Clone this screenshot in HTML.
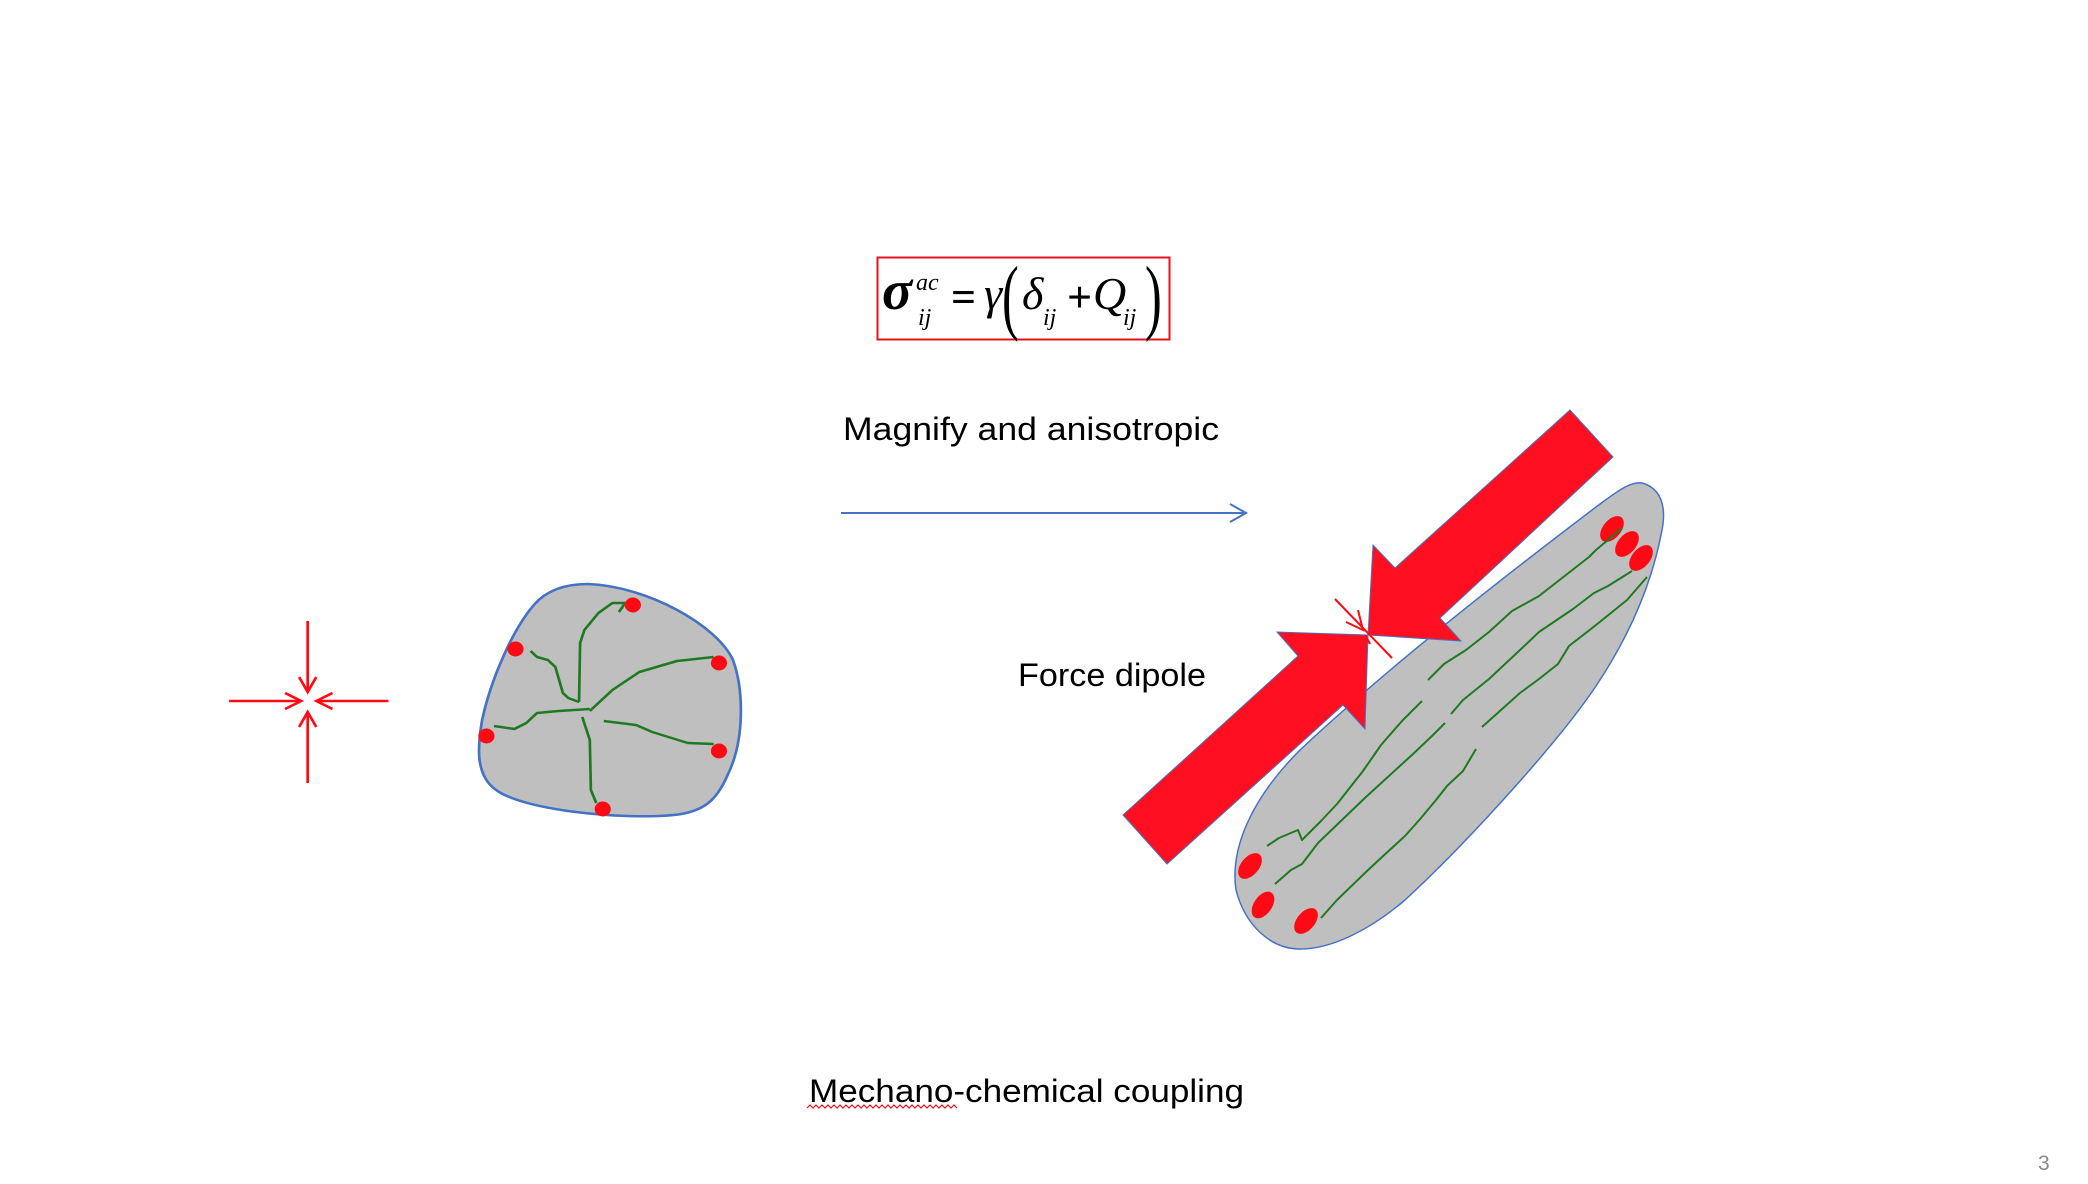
<!DOCTYPE html>
<html><head><meta charset="utf-8"><style>
html,body{margin:0;padding:0;background:#fff;}
svg{display:block;}
</style></head><body>
<svg width="2088" height="1184" viewBox="0 0 2088 1184" xmlns="http://www.w3.org/2000/svg">
<!-- equation -->
<rect x="877.5" y="257.5" width="292" height="82" fill="none" stroke="#e8121f" stroke-width="2"/>
<g font-family="'Liberation Serif',serif" font-style="italic" fill="#000">
<text x="882" y="309" font-size="56" font-weight="bold">σ</text>
<text x="916" y="290" font-size="24">ac</text>
<text x="918" y="325" font-size="24">ij</text>
<text x="951" y="312" font-size="44" font-style="normal" font-weight="bold">=</text>
<text x="984" y="309" font-size="46">γ</text>
<text x="1002" y="324" font-size="84" font-style="normal" transform="translate(1002 0) scale(0.6 1) translate(-1002 0)">(</text>
<text x="1022" y="309" font-size="46">δ</text>
<text x="1043" y="325" font-size="24">ij</text>
<text x="1067" y="312" font-size="44" font-style="normal" font-weight="bold">+</text>
<text x="1093" y="309" font-size="46">Q</text>
<text x="1123" y="325" font-size="24">ij</text>
<text x="1145" y="324" font-size="84" font-style="normal" transform="translate(1145 0) scale(0.6 1) translate(-1145 0)">)</text>
</g>
<g font-family="'Liberation Sans',sans-serif" fill="#000" font-size="32">
<text x="843" y="440" textLength="376" lengthAdjust="spacingAndGlyphs">Magnify and anisotropic</text>
<text x="1018" y="686" textLength="188" lengthAdjust="spacingAndGlyphs">Force dipole</text>
<text x="809" y="1102" textLength="435" lengthAdjust="spacingAndGlyphs">Mechano-chemical coupling</text>
</g>
<text x="2038" y="1170" font-family="'Liberation Sans',sans-serif" font-size="21" fill="#8a8a8a">3</text>
<path d="M807,1108 l3,-3 l3,3 l3,-3 l3,3 l3,-3 l3,3 l3,-3 l3,3 l3,-3 l3,3 l3,-3 l3,3 l3,-3 l3,3 l3,-3 l3,3 l3,-3 l3,3 l3,-3 l3,3 l3,-3 l3,3 l3,-3 l3,3 l3,-3 l3,3 l3,-3 l3,3 l3,-3 l3,3 l3,-3 l3,3 l3,-3 l3,3 l3,-3 l3,3 l3,-3 l3,3 l3,-3 l3,3 l3,-3 l3,3 l3,-3 l3,3 l3,-3 l3,3 l3,-3 l3,3 l3,-3 l3,3" fill="none" stroke="#e8121f" stroke-width="1.2"/>
<!-- blue arrow -->
<g stroke="#4472c4" stroke-width="2" fill="none">
<line x1="841" y1="513" x2="1245" y2="513"/>
<polyline points="1230,504 1246,513 1230,522"/>
</g>
<g transform="translate(200 0) scale(1.0768 1) translate(-200 0)">
<!-- cross -->
<g stroke="#ff0a14" stroke-width="2.5" fill="none">
<line x1="300" y1="621" x2="300" y2="692"/>
<polyline points="292,677 300,692 308,677"/>
<line x1="300" y1="712" x2="300" y2="783"/>
<polyline points="292,727 300,712 308,727"/>
<line x1="227" y1="701" x2="294" y2="701"/>
<polyline points="279,693 294,701 279,709"/>
<line x1="308" y1="701" x2="375" y2="701"/>
<polyline points="323,693 308,701 323,709"/>
</g>
<!-- left cell -->
<path d="M560,584 C615,586 680,625 695,660 C705,690 706,740 690,775 C680,800 668,812 640,815 C590,820 500,810 475,790 C455,775 458,745 462,720 C470,680 490,630 510,605 C522,590 540,584 560,584 Z" fill="#bfbfbf" stroke="#4472c4" stroke-width="2.5"/>
<g stroke="#1f7a1f" stroke-width="2.5" fill="none" stroke-linejoin="round">
<polyline points="589,612 595,603 583,603 570,613 557,630 553,643 552,702"/>
<polyline points="507,651 513,657 523,660 530,667 537,693 542,698 552,702"/>
<polyline points="473,726 492,729 503,723 513,713 533,711 562,709"/>
<polyline points="562,711 583,690 608,672 643,661 677,657"/>
<polyline points="555,717 562,740 563,790 568,803"/>
<polyline points="575,721 605,725 620,732 653,743 677,744"/>
</g>
<g fill="#ff0a14">
<circle cx="602" cy="605" r="7.5"/><circle cx="493" cy="649" r="7.5"/><circle cx="682" cy="663" r="7.5"/>
<circle cx="466" cy="736" r="7.5"/><circle cx="682" cy="751" r="7.5"/><circle cx="574" cy="809" r="7.5"/>
</g>
</g>
<!-- right cell -->
<path d="M1642,483 C1660,488 1668,505 1661,535 C1655,565 1640,620 1596,686 C1560,740 1470,840 1405,900 C1370,930 1330,950 1298,949 C1270,948 1245,925 1236,890 C1230,850 1250,800 1300,750 C1380,675 1480,595 1596,507 C1615,493 1630,481 1642,483 Z" fill="#bfbfbf" stroke="#4472c4" stroke-width="1.5"/>
<g fill="#ff0a14">
<ellipse cx="1612" cy="529" rx="15" ry="9" transform="rotate(-50 1612 529)"/>
<ellipse cx="1627" cy="544" rx="15" ry="9" transform="rotate(-50 1627 544)"/>
<ellipse cx="1641" cy="558" rx="15" ry="9" transform="rotate(-50 1641 558)"/>
<ellipse cx="1250" cy="866" rx="15" ry="9" transform="rotate(-50 1250 866)"/>
<ellipse cx="1263" cy="905" rx="15" ry="9" transform="rotate(-55 1263 905)"/>
<ellipse cx="1306" cy="921" rx="15" ry="9" transform="rotate(-50 1306 921)"/>
</g>
<g stroke="#1f7a1f" stroke-width="2" fill="none" stroke-linejoin="round">
<polyline points="1622,528 1596,550 1589,557 1539,596 1512,611 1489,632 1466,650 1444,664 1428,680"/>
<polyline points="1422,701 1402,721 1381,745 1363,771 1337,804 1321,821 1302,840 1298,830 1279,838 1267,846"/>
<polyline points="1632,571 1608,586 1594,593 1573,609 1539,632 1520,650 1489,679 1463,700 1451,714"/>
<polyline points="1445,723 1432,736 1413,754 1390,775 1367,796 1344,818 1318,843 1302,864 1291,870 1275,884"/>
<polyline points="1647,577 1627,600 1596,625 1569,646 1558,664 1539,679 1520,693 1482,727"/>
<polyline points="1476,749 1463,771 1447,786 1436,800 1421,818 1405,836 1382,857 1367,871 1337,900 1321,918"/>
</g>
<!-- big arrows -->
<polygon points="1570,410 1613,457 1440,618 1461,641 1368,635 1373,545 1395,568" fill="#ff0f1f" stroke="#4472c4" stroke-width="1"/>
<polygon points="1123,815 1298,656 1277,632 1368,635 1365,729 1343,705 1167,864" fill="#ff0f1f" stroke="#4472c4" stroke-width="1"/>
<!-- small arrows -->
<g stroke="#ff0a14" stroke-width="2" fill="none">
<line x1="1335" y1="599" x2="1392" y2="658"/>
<polyline points="1346,622 1363,630 1358,610"/>
<polyline points="1367,638 1370,644"/>
</g>
</svg>
</body></html>
